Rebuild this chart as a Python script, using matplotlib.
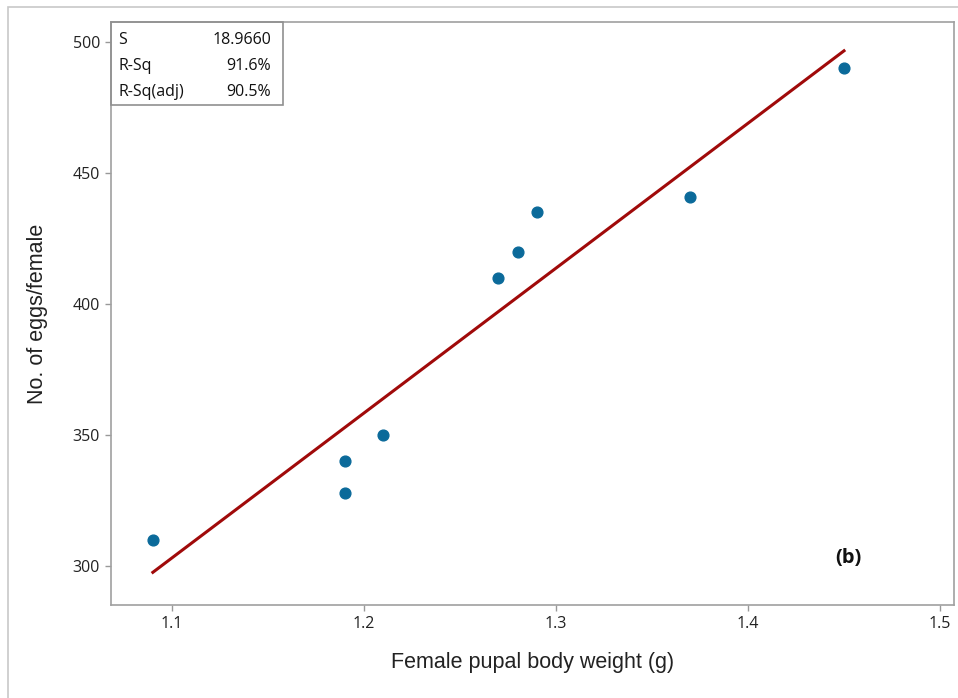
import numpy as np
import matplotlib.pyplot as plt
from matplotlib.patches import Rectangle

# data
weight = [1.09, 1.19, 1.19, 1.21, 1.27, 1.28, 1.29, 1.37, 1.45]
eggs = [310, 340, 328, 350, 410, 420, 435, 441, 490]
stat_names = ["S", "R-Sq", "R-Sq(adj)"]
stat_values = ["18.9660", "91.6%", "90.5%"]
x_ticks = [1.1, 1.2, 1.3, 1.4, 1.5]
y_ticks = [300, 350, 400, 450, 500]

tick_font = "Open Sans"
label_font = "Liberation Sans"

fig = plt.figure(figsize=(9.58, 6.98), dpi=100)
fig.patches.append(Rectangle((8 / 958, -0.1), 1.2, 1 - 7 / 698 + 0.1,
                             transform=fig.transFigure, fill=False,
                             edgecolor="#c8c8c8", linewidth=1.2))
ax = fig.add_axes([111 / 958, 1 - 605 / 698, (954 - 111) / 958, (605 - 22) / 698])

# fitted regression line
b, a = np.polyfit(weight, eggs, 1)
xs = np.linspace(min(weight), max(weight), 50)
ax.plot(xs, a + b * xs, color="#a00a0a", linewidth=2.2, zorder=2)
ax.scatter(weight, eggs, s=60, marker="o", color="#0b6a9a", zorder=3)

ax.set_xlim(1.0682, 1.5073)
ax.set_ylim(285.1, 507.6)
ax.set_xticks(x_ticks)
ax.set_yticks(y_ticks)
ax.set_xticklabels([str(t) for t in x_ticks], fontfamily=tick_font, fontsize=11.5, color="#222")
ax.set_yticklabels([str(t) for t in y_ticks], fontfamily=tick_font, fontsize=11.5, color="#222")
ax.tick_params(direction="out", length=4, width=1, color="#999999", pad=4)
for s in ax.spines.values():
    s.set_color("#a0a0a0")
    s.set_linewidth(1.2)

ax.set_xlabel("Female pupal body weight (g)", fontfamily=label_font, fontsize=15.5, labelpad=14, color="#222")
ax.set_ylabel("No. of eggs/female", fontfamily=label_font, fontsize=15.5, labelpad=18, color="#222")

ax.text(1.4525, 303, "(b)", fontfamily=tick_font, fontweight="bold", fontsize=14.5,
        ha="center", va="center", color="#111")

# stats box
bw = (283 - 111) / 843
bh = (105 - 22) / 583
ax.add_patch(Rectangle((0.0, 1 - bh), bw, bh, transform=ax.transAxes, fill=False,
                       edgecolor="#909090", linewidth=1.2, zorder=4, clip_on=False))
for i, (n, v) in enumerate(zip(stat_names, stat_values)):
    yy = 1 - (40 + 26 * i - 22) / 583
    ax.text(7 / 843, yy, n, transform=ax.transAxes, fontfamily=tick_font, fontsize=11.5,
            ha="left", va="center", color="#111")
    ax.text((271 - 111) / 843, yy, v, transform=ax.transAxes, fontfamily=tick_font, fontsize=11.5,
            ha="right", va="center", color="#111")

fig.savefig("out.png", dpi=100)
